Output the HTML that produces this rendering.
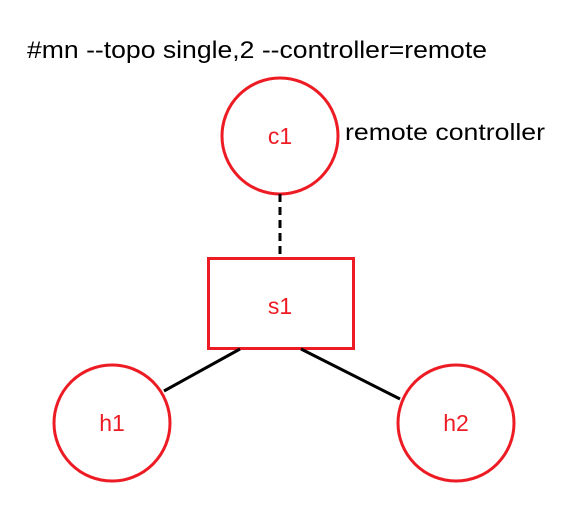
<!DOCTYPE html>
<html><head><style>html,body{margin:0;padding:0;background:#fff}</style></head>
<body>
<svg width="575" height="505" viewBox="0 0 575 505" xmlns="http://www.w3.org/2000/svg" font-family="Liberation Sans, sans-serif">
<rect width="575" height="505" fill="#fff"/>
<text x="27" y="58" font-size="24" fill="#000" textLength="460" lengthAdjust="spacingAndGlyphs">#mn --topo single,2 --controller=remote</text>
<circle cx="280" cy="136" r="58" fill="none" stroke="#ed1c24" stroke-width="3"/>
<text x="280" y="144" font-size="23" fill="#ed1c24" text-anchor="middle">c1</text>
<text x="345" y="140" font-size="23" fill="#000" textLength="200" lengthAdjust="spacingAndGlyphs">remote controller</text>
<line x1="280" y1="194" x2="280" y2="257" stroke="#000" stroke-width="3" stroke-dasharray="8,5"/>
<rect x="208.5" y="258.5" width="145" height="90" fill="none" stroke="#ed1c24" stroke-width="3"/>
<text x="280" y="314" font-size="23" fill="#ed1c24" text-anchor="middle">s1</text>
<line x1="240" y1="349" x2="164" y2="391" stroke="#000" stroke-width="3"/>
<line x1="301" y1="349" x2="400" y2="399" stroke="#000" stroke-width="3"/>
<circle cx="112" cy="423" r="58" fill="none" stroke="#ed1c24" stroke-width="3"/>
<text x="112" y="431" font-size="23" fill="#ed1c24" text-anchor="middle">h1</text>
<circle cx="456" cy="423" r="58" fill="none" stroke="#ed1c24" stroke-width="3"/>
<text x="456" y="431" font-size="23" fill="#ed1c24" text-anchor="middle">h2</text>
</svg>
</body></html>
